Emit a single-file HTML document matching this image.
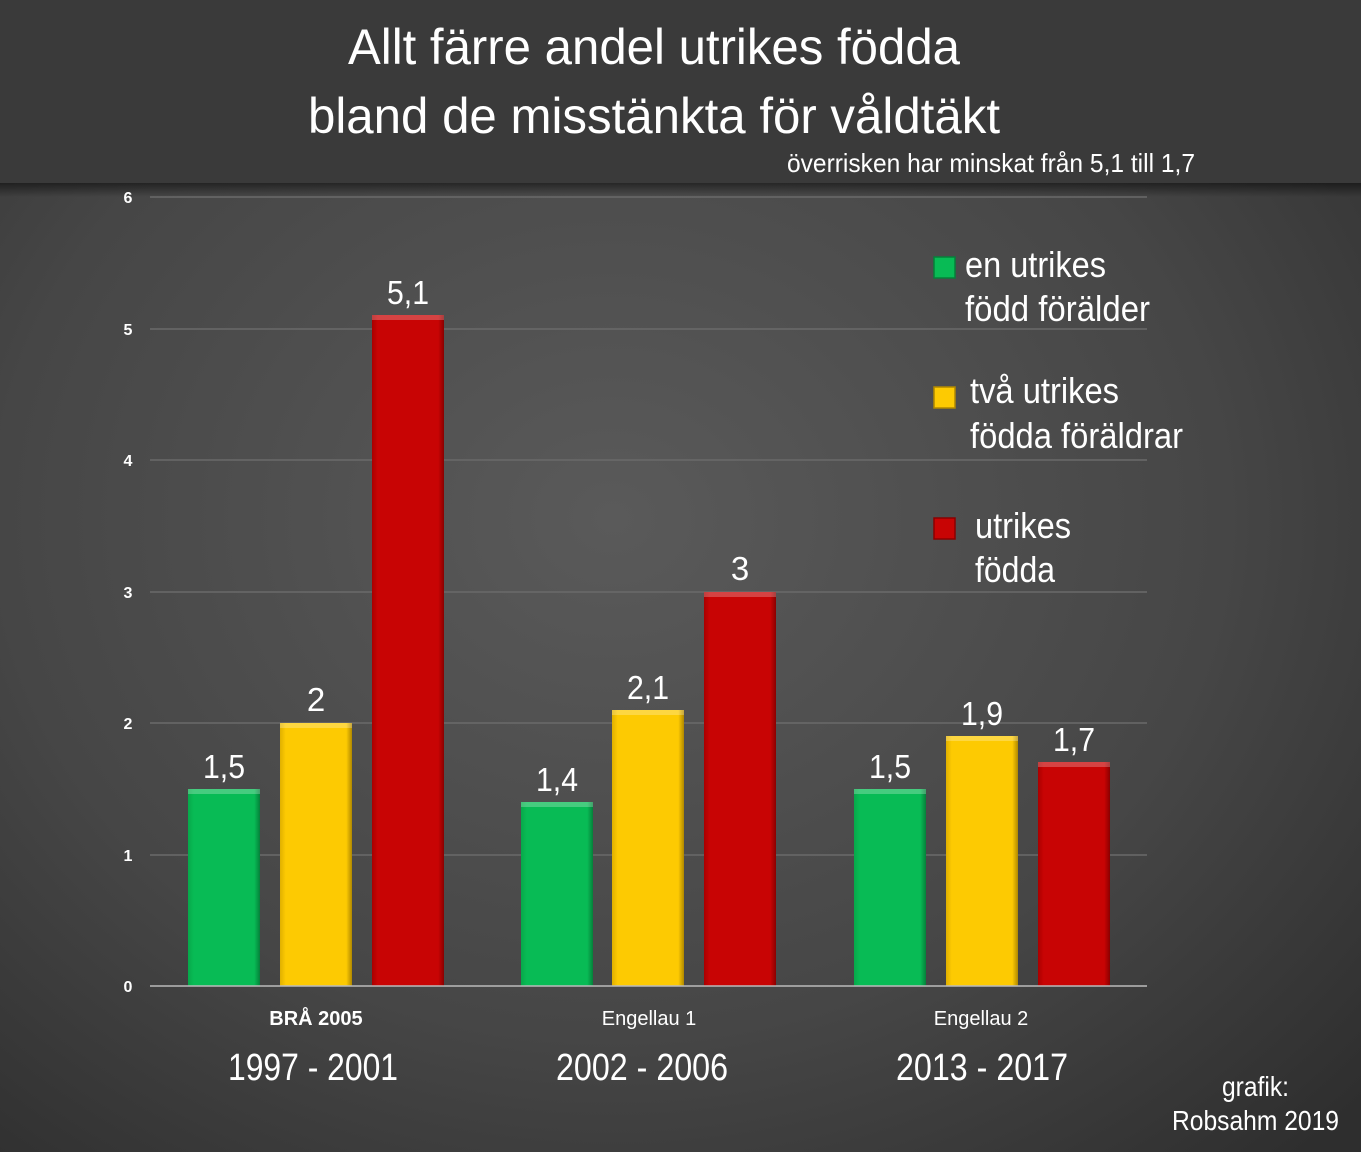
<!DOCTYPE html>
<html><head><meta charset="utf-8"><style>
html,body{margin:0;padding:0;background:#333;}
svg{display:block}
text{font-family:"Liberation Sans",Arial,sans-serif;fill:#fff}
</style></head><body>
<svg width="1361" height="1152" viewBox="0 0 1361 1152" xmlns="http://www.w3.org/2000/svg">
<defs>
<radialGradient id="bg" cx="0.45" cy="0.45" r="0.75">
<stop offset="0" stop-color="#5a5a5a"/>
<stop offset="0.6" stop-color="#464646"/>
<stop offset="1" stop-color="#2e2e2e"/>
</radialGradient>
<linearGradient id="sh" x1="0" y1="0" x2="0" y2="1">
<stop offset="0" stop-color="#000" stop-opacity="0.5"/>
<stop offset="1" stop-color="#000" stop-opacity="0"/>
</linearGradient>
<linearGradient id="g" x1="0" x2="1"><stop offset="0" stop-color="#07a84a"/><stop offset="0.08" stop-color="#08bb55"/><stop offset="0.92" stop-color="#08bb55"/><stop offset="1" stop-color="#05803a"/></linearGradient>
<linearGradient id="y" x1="0" x2="1"><stop offset="0" stop-color="#e0b000"/><stop offset="0.08" stop-color="#fdca02"/><stop offset="0.92" stop-color="#fdca02"/><stop offset="1" stop-color="#b08800"/></linearGradient>
<linearGradient id="r" x1="0" x2="1"><stop offset="0" stop-color="#aa0000"/><stop offset="0.08" stop-color="#c80404"/><stop offset="0.92" stop-color="#c80404"/><stop offset="1" stop-color="#8a0000"/></linearGradient>
</defs>
<rect width="1361" height="1152" fill="url(#bg)"/>
<rect width="1361" height="183" fill="#3a3a3a"/>
<rect y="183" width="1361" height="14" fill="url(#sh)"/>

<text x="654" y="64" font-size="50" text-anchor="middle" textLength="612" lengthAdjust="spacingAndGlyphs">Allt färre andel utrikes födda</text>
<text x="654" y="133" font-size="50" text-anchor="middle" textLength="692" lengthAdjust="spacingAndGlyphs">bland de misstänkta för våldtäkt</text>
<text x="1195" y="172" font-size="26" text-anchor="end" textLength="408" lengthAdjust="spacingAndGlyphs">överrisken har minskat från 5,1 till 1,7</text>

<g stroke="#6a6a6a" stroke-width="1.5">
<line x1="150" x2="1147" y1="197" y2="197"/>
<line x1="150" x2="1147" y1="329" y2="329"/>
<line x1="150" x2="1147" y1="460" y2="460"/>
<line x1="150" x2="1147" y1="592" y2="592"/>
<line x1="150" x2="1147" y1="723" y2="723"/>
<line x1="150" x2="1147" y1="855" y2="855"/>
</g>

<g font-size="16" text-anchor="middle" font-weight="bold">
<text x="128" y="203">6</text><text x="128" y="335">5</text><text x="128" y="466">4</text>
<text x="128" y="598">3</text><text x="128" y="729">2</text><text x="128" y="861">1</text><text x="128" y="992">0</text>
</g>

<g>
<rect x="188" y="789" width="72" height="197" fill="url(#g)"/>
<rect x="280" y="723" width="72" height="263" fill="url(#y)"/>
<rect x="372" y="315" width="72" height="671" fill="url(#r)"/>
<rect x="521" y="802" width="72" height="184" fill="url(#g)"/>
<rect x="612" y="710" width="72" height="276" fill="url(#y)"/>
<rect x="704" y="592" width="72" height="394" fill="url(#r)"/>
<rect x="854" y="789" width="72" height="197" fill="url(#g)"/>
<rect x="946" y="736" width="72" height="250" fill="url(#y)"/>
<rect x="1038" y="762" width="72" height="224" fill="url(#r)"/>
</g>
<g fill="#fff" fill-opacity="0.25">
<rect x="188" y="789" width="72" height="5"/><rect x="280" y="723" width="72" height="5"/><rect x="372" y="315" width="72" height="5"/>
<rect x="521" y="802" width="72" height="5"/><rect x="612" y="710" width="72" height="5"/><rect x="704" y="592" width="72" height="5"/>
<rect x="854" y="789" width="72" height="5"/><rect x="946" y="736" width="72" height="5"/><rect x="1038" y="762" width="72" height="5"/>
</g>
<line x1="150" x2="1147" y1="986" y2="986" stroke="#bbb" stroke-width="1.5"/>

<g font-size="33" text-anchor="middle">
<text x="224" y="778" textLength="42" lengthAdjust="spacingAndGlyphs">1,5</text>
<text x="316" y="711">2</text>
<text x="408" y="304" textLength="42" lengthAdjust="spacingAndGlyphs">5,1</text>
<text x="557" y="791" textLength="42" lengthAdjust="spacingAndGlyphs">1,4</text>
<text x="648" y="699" textLength="42" lengthAdjust="spacingAndGlyphs">2,1</text>
<text x="740" y="580">3</text>
<text x="890" y="778" textLength="42" lengthAdjust="spacingAndGlyphs">1,5</text>
<text x="982" y="725" textLength="42" lengthAdjust="spacingAndGlyphs">1,9</text>
<text x="1074" y="751" textLength="42" lengthAdjust="spacingAndGlyphs">1,7</text>
</g>

<g font-size="20" text-anchor="middle" font-weight="bold">
<text x="316" y="1025">BRÅ 2005</text>
<text x="649" y="1025" font-weight="normal">Engellau 1</text>
<text x="981" y="1025" font-weight="normal">Engellau 2</text>
</g>
<g font-size="38" text-anchor="middle">
<text x="313" y="1080" textLength="170" lengthAdjust="spacingAndGlyphs">1997 - 2001</text>
<text x="642" y="1080" textLength="172" lengthAdjust="spacingAndGlyphs">2002 - 2006</text>
<text x="982" y="1080" textLength="172" lengthAdjust="spacingAndGlyphs">2013 - 2017</text>
</g>

<rect x="934" y="257" width="21" height="21" fill="#08bb55" stroke="#05803a" stroke-width="1.5"/>
<rect x="934" y="387" width="21" height="21" fill="#fdca02" stroke="#b08800" stroke-width="1.5"/>
<rect x="934" y="518" width="21" height="21" fill="#c80404" stroke="#8a0000" stroke-width="1.5"/>
<g font-size="36">
<text x="965" y="277" textLength="141" lengthAdjust="spacingAndGlyphs">en utrikes</text>
<text x="965" y="321" textLength="185" lengthAdjust="spacingAndGlyphs">född förälder</text>
<text x="970" y="403" textLength="149" lengthAdjust="spacingAndGlyphs">två utrikes</text>
<text x="970" y="448" textLength="213" lengthAdjust="spacingAndGlyphs">födda föräldrar</text>
<text x="975" y="538" textLength="96" lengthAdjust="spacingAndGlyphs">utrikes</text>
<text x="975" y="582" textLength="80" lengthAdjust="spacingAndGlyphs">födda</text>
</g>
<g font-size="28" text-anchor="end">
<text x="1289" y="1096" textLength="67" lengthAdjust="spacingAndGlyphs">grafik:</text>
<text x="1339" y="1130" textLength="167" lengthAdjust="spacingAndGlyphs">Robsahm 2019</text>
</g>
</svg>
</body></html>
